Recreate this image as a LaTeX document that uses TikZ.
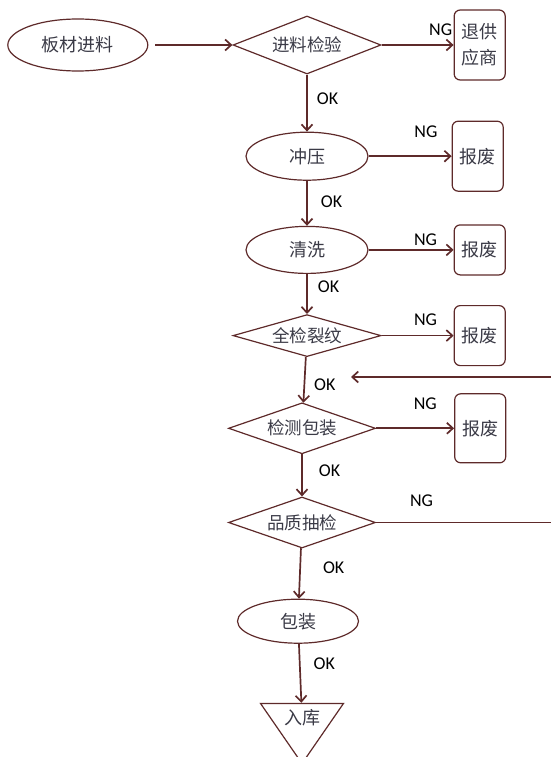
\documentclass[tikz,border=0pt]{standalone}
\usepackage{fontspec}
\setmainfont{Carlito}
\newfontfamily\cjk{Noto Sans CJK SC}
\usetikzlibrary{arrows.meta,shapes.geometric,positioning}
\definecolor{edge}{HTML}{5E2A2A}
\definecolor{ink}{HTML}{3A3A46}

\begin{document}
\begin{tikzpicture}[
  x=1pt, y=-1pt,
  every node/.style={font=\fontsize{18}{26}\selectfont},
  term/.style={ellipse, draw=edge, line width=1.2pt, inner sep=0pt, text=ink,
               font=\cjk\fontsize{18}{26}\selectfont},
  decision/.style={diamond, aspect=3.3, draw=edge, line width=1.2pt, inner sep=0pt, text=ink,
                   font=\cjk\fontsize{17.5}{26}\selectfont},
  reject/.style={rectangle, rounded corners=6pt, draw=edge, line width=1.2pt,
                 minimum width=51pt, inner sep=2pt, align=center, text=ink,
                 font=\cjk\fontsize{18}{26}\selectfont},
  sink/.style={isosceles triangle, shape border rotate=-90, isosceles triangle stretches,
               minimum width=83pt, minimum height=52pt, inner sep=0pt, draw=edge,
               line width=1.2pt, text=ink, font=\cjk\fontsize{18}{26}\selectfont},
  lab/.style={inner sep=1pt, text=black},
  link/.style={line width=1.7pt, draw=edge},
  arr/.style={link, -{Straight Barb[length=6pt,width=11pt]}},
]
\useasboundingbox (0,0) rectangle (551,757);

% main line
\node[decision, minimum width=148pt, minimum height=58pt] (inspect) at (307,45) {进料检验};
\node[term, minimum width=140pt, minimum height=52pt, left=84pt of inspect] (src) {板材进料};
\node[term, minimum width=122pt, minimum height=48pt, below=57pt of inspect] (press) {冲压};
\node[term, minimum width=122pt, minimum height=47pt, below=45pt of press] (wash) {清洗};
\node[decision, minimum width=148pt, minimum height=42pt, below=40pt of wash] (crack) {全检裂纹};
\node[decision, minimum width=147pt, minimum height=51pt, below=45pt of crack, xshift=-5pt] (pack) {检测包装};
\node[decision, minimum width=147pt, minimum height=51pt, below=42pt of pack] (sample) {品质抽检};
\node[term, minimum width=121pt, minimum height=44pt, below=50pt of sample, xshift=-4pt] (bag) {包装};
\node[sink, below=59pt of bag, xshift=4pt] (store) {入库};

% rejects
\node[reject, minimum height=70pt, right=72pt of inspect] (ret) {退供\\应商};
\node[reject, minimum height=70pt, right=83pt of press] (scrapA) {报废};
\node[reject, minimum height=50pt, right=85pt of wash] (scrapB) {报废};
\node[reject, minimum height=60pt, right=72pt of crack] (scrapC) {报废};
\node[reject, minimum height=69pt, right=78pt of pack] (scrapD) {报废};

% loop back from the sample check
\coordinate (outR) at (sample.east -| 551,0);
\coordinate (backR) at (551,377);
\coordinate (backIn) at (351,377);

\draw[arr, shorten <=7pt] (src) -- (inspect);
\draw[arr] (inspect) -- node[lab, pos=0.82, above=8pt] {NG} (ret);
\draw[arr] (press) -- node[lab, pos=0.69, above=17pt] {NG} (scrapA);
\draw[arr] (wash) -- node[lab, pos=0.67, above=2pt] {NG} (scrapB);
\draw[arr] (crack) -- node[lab, pos=0.61, above=8pt] {NG} (scrapC);
\draw[arr] (pack) -- node[lab, pos=0.63, above=17pt] {NG} (scrapD);
\draw[link] (sample) -- node[lab, pos=0.26, above=14pt] {NG} (outR);
\draw[arr] (backR) -- (backIn);

\draw[arr] (inspect) -- node[lab, pos=0.43, right=8pt] {OK} (press);
\draw[arr] (press) -- node[lab, pos=0.46, right=12pt] {OK} (wash);
\draw[arr] (wash) -- node[lab, pos=0.33, right=9pt] {OK} (crack);
\draw[arr] (crack) -- node[lab, pos=0.6, right=8pt] {OK} (pack);
\draw[arr] (pack) -- node[lab, pos=0.39, right=15pt] {OK} (sample);
\draw[arr] (sample) -- node[lab, pos=0.38, right=21pt] {OK} (bag);
\draw[arr] (bag) -- node[lab, pos=0.33, right=12pt] {OK} (store);

\end{tikzpicture}
\end{document}
